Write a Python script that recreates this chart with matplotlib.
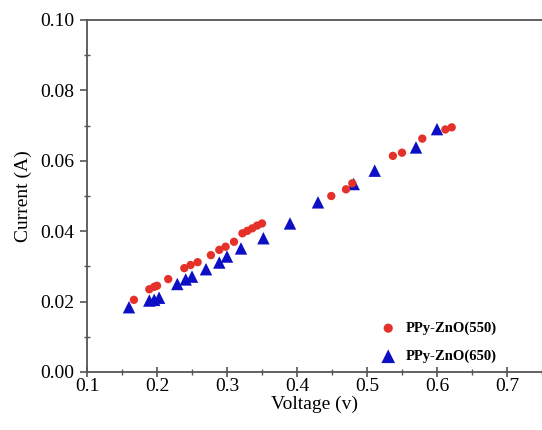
import matplotlib
matplotlib.use("Agg")
import matplotlib.pyplot as plt
from matplotlib.ticker import MultipleLocator

# Data
v_550 = [0.167, 0.189, 0.196, 0.200, 0.216, 0.239, 0.248, 0.258, 0.277, 0.289,
         0.298, 0.310, 0.322, 0.329, 0.336, 0.343, 0.350, 0.449, 0.470, 0.479,
         0.537, 0.550, 0.579, 0.612, 0.621]
i_550 = [0.0205, 0.0235, 0.0242, 0.0245, 0.0264, 0.0295, 0.0304, 0.0312, 0.0332, 0.0347,
         0.0356, 0.0370, 0.0394, 0.0401, 0.0408, 0.0416, 0.0422, 0.0500, 0.0519, 0.0536,
         0.0614, 0.0623, 0.0663, 0.0689, 0.0695]

v_650 = [0.160, 0.189, 0.196, 0.203, 0.229, 0.241, 0.250, 0.270, 0.289, 0.300,
         0.320, 0.352, 0.390, 0.430, 0.481, 0.511, 0.570, 0.600]
i_650 = [0.0184, 0.0203, 0.0205, 0.0211, 0.0250, 0.0263, 0.0271, 0.0292, 0.0311, 0.0328,
         0.0351, 0.0380, 0.0422, 0.0482, 0.0534, 0.0572, 0.0638, 0.0690]

labels = ["PPy-ZnO(550)", "PPy-ZnO(650)"]
x_ticks = [0.1, 0.2, 0.3, 0.4, 0.5, 0.6, 0.7]
y_ticks = [0.00, 0.02, 0.04, 0.06, 0.08, 0.10]

plt.rcParams['font.family'] = ['Liberation Serif', 'DejaVu Serif']

fig = plt.figure(figsize=(5.42, 4.30), dpi=100)
ax = fig.add_axes([87/542, 1-372/430, (542-87)/542, (372-20)/430])

ax.scatter(v_550, i_550, s=36, color='#e4322b', marker='o', edgecolors='none',
           label=labels[0], zorder=3)
ax.scatter(v_650, i_650, s=80, color='#0c0fc4', marker='^', edgecolors='none',
           label=labels[1], zorder=2)

ax.set_xlim(0.1, 0.75)
ax.set_ylim(0.0, 0.10)
ax.set_xticks(x_ticks)
ax.set_xticklabels([f"{t:.1f}" for t in x_ticks])
ax.set_yticks(y_ticks)
ax.set_yticklabels([f"{t:.2f}" for t in y_ticks])
ax.xaxis.set_minor_locator(MultipleLocator(0.05))
ax.yaxis.set_minor_locator(MultipleLocator(0.01))

for s in ['left', 'bottom', 'top']:
    ax.spines[s].set_color('#555555')
    ax.spines[s].set_linewidth(1.3)
ax.spines['right'].set_visible(False)

ax.tick_params(axis='y', which='major', direction='out', length=5, width=1.2,
               color='#555555', labelsize=14, pad=4, right=False)
ax.tick_params(axis='x', which='major', direction='inout', length=7, width=1.2,
               color='#555555', labelsize=14, pad=1, top=False)
ax.tick_params(axis='both', which='minor', direction='inout', length=4, width=1.0,
               color='#555555', top=False, right=False)

ax.set_xlabel("Voltage (v)", fontsize=14, labelpad=0)
ax.set_ylabel("Current (A)", fontsize=14, labelpad=6)

leg = ax.legend(loc='lower right', bbox_to_anchor=(0.92, 0.0), frameon=False,
                prop={'weight': 'bold', 'size': 10.5}, handletextpad=0.2,
                labelspacing=1.0, borderaxespad=0.2, markerscale=1.1)

fig.savefig("out.png", dpi=100)
